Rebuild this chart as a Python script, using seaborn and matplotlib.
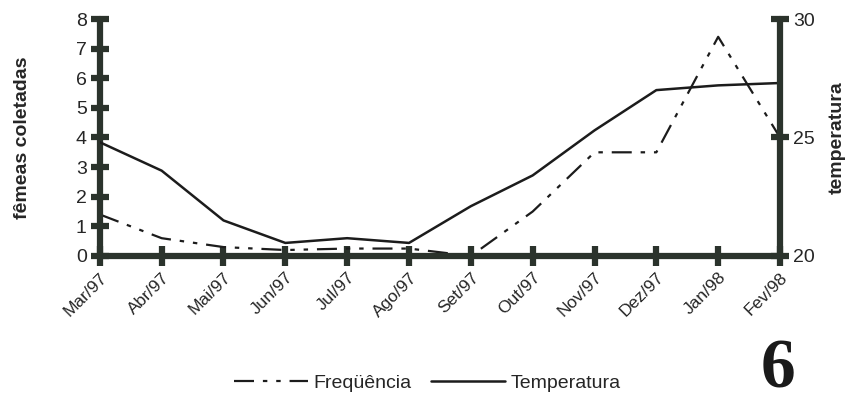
import numpy as np
import pandas as pd
import matplotlib
matplotlib.use('Agg')
import matplotlib.pyplot as plt
import seaborn as sns

# Dados
meses = ['Mar/97', 'Abr/97', 'Mai/97', 'Jun/97', 'Jul/97', 'Ago/97',
         'Set/97', 'Out/97', 'Nov/97', 'Dez/97', 'Jan/98', 'Fev/98']
frequencia = [1.4, 0.6, 0.3, 0.2, 0.25, 0.25, 0.0, 1.5, 3.5, 3.5, 7.4, 4.0]
temperatura = [24.8, 23.6, 21.5, 20.55, 20.75, 20.55, 22.1, 23.4, 25.3, 27.0, 27.2, 27.3]

df = pd.DataFrame({'pos': np.arange(len(meses)), 'mes': meses,
                   'freq': frequencia, 'temp': temperatura})

AXIS = '#2b332c'
LINE = '#1c1c1c'

sns.set_theme(style='white')
plt.rcParams['font.family'] = ['Liberation Sans', 'DejaVu Sans']

fig = plt.figure(figsize=(8.46, 4.05), dpi=100)
ax = fig.add_axes([0.118, 0.368, 0.804, 0.585])
ax2 = ax.twinx()

sns.lineplot(data=df, x='pos', y='freq', ax=ax, color=LINE, linewidth=1.6,
             linestyle=(0, (9, 4, 2, 4, 2, 4)), label='Freqüência', legend=False)
sns.lineplot(data=df, x='pos', y='temp', ax=ax2, color=LINE, linewidth=1.8,
             label='Temperatura', legend=False)

ax.set_xlim(0, len(meses) - 1)
ax.set_ylim(0, 8)
ax2.set_ylim(20, 30)
ax.set_yticks(range(0, 9))
ax2.set_yticks([20, 25, 30])
ax.set_xticks(df['pos'])
ax.set_xticklabels(meses, rotation=45, ha='right', rotation_mode='anchor')

for a in (ax, ax2):
    for s in a.spines.values():
        s.set_visible(False)
ax.spines['left'].set_visible(True)
ax.spines['bottom'].set_visible(True)
ax2.spines['right'].set_visible(True)
for s in (ax.spines['left'], ax.spines['bottom'], ax2.spines['right']):
    s.set_linewidth(4.5)
    s.set_color(AXIS)
    s.set_capstyle('round')

ax.tick_params(axis='y', left=True, direction='inout', length=13, width=4.5,
               color=AXIS, labelsize=14, pad=3)
ax.tick_params(axis='x', bottom=True, direction='inout', length=14, width=4.5,
               color=AXIS, labelsize=12.5, pad=3)
ax2.tick_params(axis='y', right=True, direction='inout', length=13, width=4.5,
                color=AXIS, labelsize=14, pad=3)
ax.grid(False)
ax2.grid(False)

ax.set_xlabel('')
ax.set_ylabel('fêmeas coletadas', fontsize=14, fontweight='bold', labelpad=32)
ax2.set_ylabel('temperatura', fontsize=14, fontweight='bold', labelpad=10)

h1, l1 = ax.get_legend_handles_labels()
h2, l2 = ax2.get_legend_handles_labels()
fig.legend(h1 + h2, l1 + l2, loc='center', bbox_to_anchor=(0.505, 0.054), ncol=2,
           frameon=False, handlelength=3.8, handletextpad=0.3,
           columnspacing=1.0, fontsize=14)

fig.text(0.92, 0.085, '6', fontsize=50, fontweight='bold', family='Liberation Serif',
         color='#1a1a1a', ha='center', va='center')

fig.savefig('out.png', dpi=100)
